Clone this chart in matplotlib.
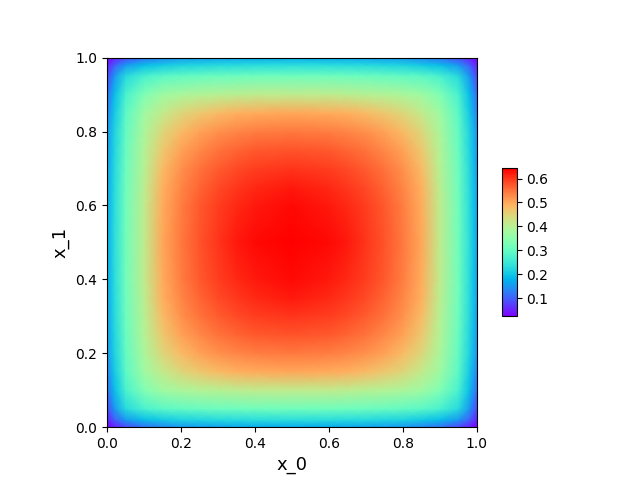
import numpy as np
import matplotlib
matplotlib.use("Agg")
import matplotlib.pyplot as plt

edge_distance = [0.0, 0.02, 0.05, 0.10, 0.15, 0.20, 0.25, 0.30, 0.35, 0.40, 0.50]
# values read by colour for one quadrant (the field looks symmetric)
quadrant = [
    [.025, .05, .08, .115, .135, .15, .155, .16, .165, .168, .17],
    [.05, .10, .15, .19, .205, .215, .22, .225, .228, .23, .232],
    [.08, .15, .225, .27, .29, .30, .305, .31, .312, .314, .316],
    [.115, .19, .27, .335, .37, .385, .395, .40, .405, .408, .41],
    [.135, .205, .29, .37, .415, .445, .465, .48, .49, .495, .50],
    [.15, .215, .30, .385, .445, .478, .505, .522, .532, .54, .545],
    [.155, .22, .305, .395, .465, .505, .53, .55, .562, .57, .575],
    [.16, .225, .31, .40, .48, .522, .55, .568, .582, .592, .60],
    [.165, .228, .312, .405, .49, .532, .562, .582, .598, .61, .622],
    [.168, .23, .314, .408, .495, .54, .57, .592, .61, .622, .634],
    [.17, .232, .316, .41, .50, .545, .575, .60, .622, .634, .642],
]
vmin_value = 0.024
vmax_value = 0.642
colorbar_ticks = [0.1, 0.2, 0.3, 0.4, 0.5, 0.6]

d = np.array(edge_distance)
coords = np.concatenate([d, 1 - d[-2::-1]])
q = np.array(quadrant)
top = np.hstack([q, q[:, -2::-1]])
field = np.vstack([top, top[-2::-1]])

fig = plt.figure(figsize=(6.4, 4.8), dpi=100)
ax = fig.add_axes([107.2 / 640, 52.8 / 480, 369.6 / 640, 369.6 / 480])
mesh = ax.pcolormesh(coords, coords, field, cmap="rainbow", shading="gouraud",
                     vmin=vmin_value, vmax=vmax_value)
ax.set_xlim(0, 1)
ax.set_ylim(0, 1)
ax.set_xlabel("x_0", fontsize=13)
ax.set_ylabel("x_1", fontsize=13)
cax = fig.add_axes([502.4 / 640, 163.7 / 480, 14.4 / 640, 147.84 / 480])
fig.colorbar(mesh, cax=cax, ticks=colorbar_ticks)
fig.savefig("out.png", dpi=100)
